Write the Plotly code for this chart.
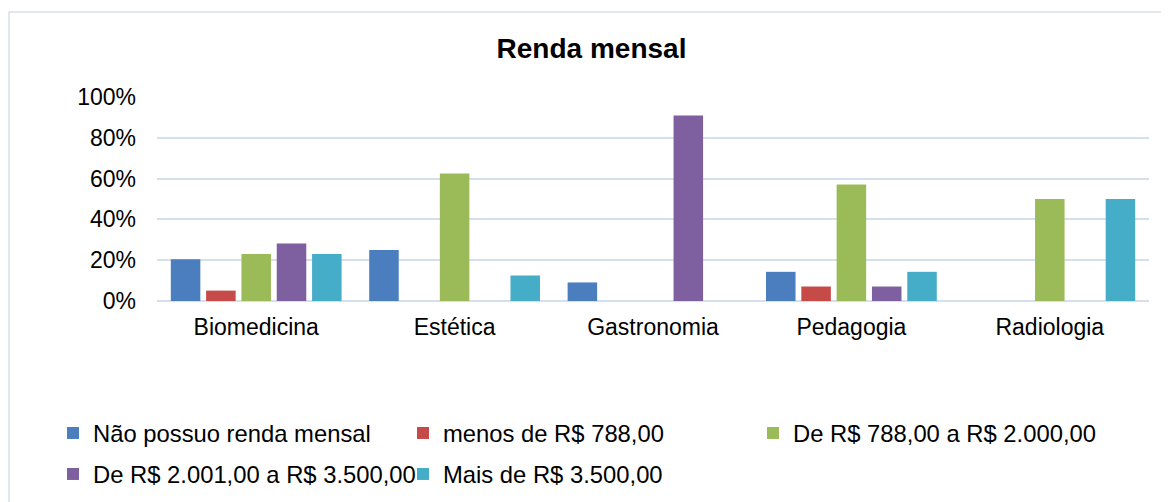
import plotly.graph_objects as go

categories = ["Biomedicina", "Estética", "Gastronomia", "Pedagogia", "Radiologia"]
series_names = [
    "Não possuo renda mensal",
    "menos de R$ 788,00",
    "De R$ 788,00 a R$ 2.000,00",
    "De R$ 2.001,00 a R$ 3.500,00",
    "Mais de R$ 3.500,00",
]
nao_possuo = [20.5, 25.0, 9.1, 14.3, 0]
menos_788 = [5.1, 0, 0, 7.1, 0]
de_788_2000 = [23.1, 62.5, 0, 57.1, 50.0]
de_2001_3500 = [28.2, 0, 90.9, 7.1, 0]
mais_3500 = [23.1, 12.5, 0, 14.3, 50.0]
y_ticks = [0, 20, 40, 60, 80, 100]
y_tick_labels = ["0%", "20%", "40%", "60%", "80%", "100%"]

values = [nao_possuo, menos_788, de_788_2000, de_2001_3500, mais_3500]
colors = ["#4A7EBF", "#C64A47", "#9BBB59", "#7E5F9F", "#46ADC8"]
legends = ["legend", "legend", "legend", "legend2", "legend2"]

FONT = "Liberation Sans, Arial, sans-serif"
OFF = 8  # page body margin
W, H = 1169 - OFF, 502 - OFF
L, R, T, B = 157 - OFF, 20, 97 - OFF, 201
pw, ph = W - L - R, H - T - B

def px_x(p):
    # p is window pixel
    return (p - OFF - L) / pw

def px_y(p):
    return (H - B - (p - OFF)) / ph

fig = go.Figure()
for name, vals, col, lg in zip(series_names, values, colors, legends):
    fig.add_trace(go.Bar(
        x=categories, y=vals, name=name,
        marker=dict(color=col, line=dict(width=0)),
        legend=lg, hoverinfo="skip",
    ))

grid_col = "#D5E0EE"
fig.update_layout(
    width=W, height=H,
    margin=dict(l=L, r=R, t=T, b=B, autoexpand=False),
    paper_bgcolor="white", plot_bgcolor="white",
    barmode="group", bargap=0.11, bargroupgap=0.164,
    font=dict(family=FONT, size=23, color="black"),
    title=dict(text="<b>Renda mensal</b>", x=px_x(591.5), xref="paper", xanchor="center",
               y=1 - (48 - OFF) / H, yref="container", yanchor="middle",
               font=dict(family=FONT, size=28, color="black")),
    xaxis=dict(showgrid=False, showline=False, zeroline=False, ticks="",
               ticklabelstandoff=10, tickfont=dict(size=23)),
    yaxis=dict(range=[0, 100], tickvals=y_ticks, ticktext=y_tick_labels,
               showgrid=True, gridcolor=grid_col, gridwidth=2,
               zeroline=True, zerolinecolor=grid_col, zerolinewidth=2,
               showline=False, ticks="", ticklabelstandoff=20,
               tickfont=dict(size=23)),
    legend=dict(orientation="h", x=px_x(53), xanchor="left", y=px_y(433), yanchor="middle",
                entrywidth=305, entrywidthmode="pixels", font=dict(size=23.8),
                bgcolor="rgba(0,0,0,0)", borderwidth=0, traceorder="normal"),
    legend2=dict(orientation="h", x=px_x(53), xanchor="left", y=px_y(474), yanchor="middle",
                 entrywidth=305, entrywidthmode="pixels", font=dict(size=23.8),
                 bgcolor="rgba(0,0,0,0)", borderwidth=0, traceorder="normal"),
    shapes=[dict(type="rect", xref="paper", yref="paper",
                 x0=px_x(9), x1=px_x(1175), y0=px_y(510), y1=px_y(12),
                 line=dict(color="#D9DFE8", width=1.5), fillcolor="rgba(0,0,0,0)",
                 layer="below")],
)

fig.write_html("out.html")
